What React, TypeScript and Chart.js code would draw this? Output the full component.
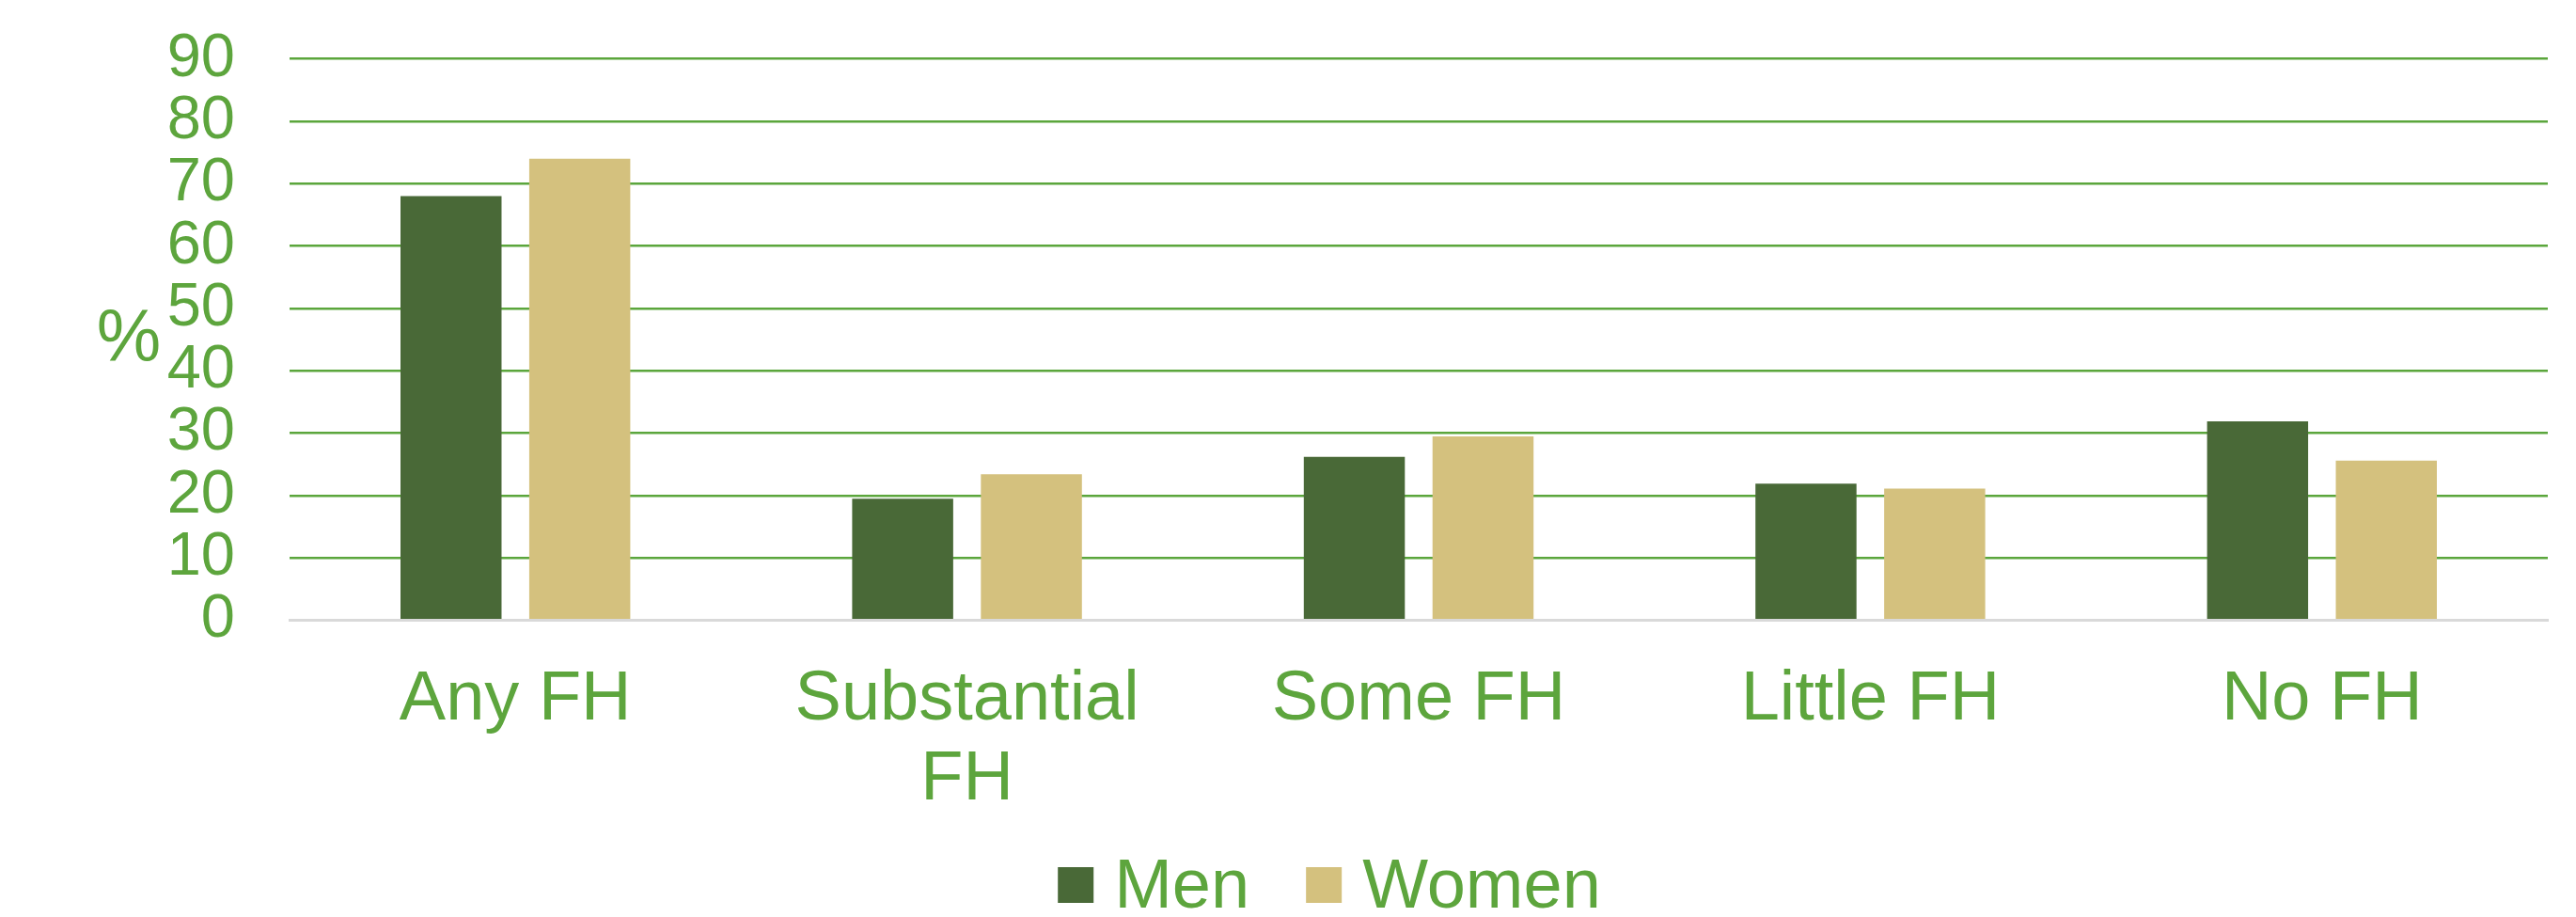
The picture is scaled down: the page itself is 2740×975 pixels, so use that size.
import React, { useEffect, useRef } from "react";
import { Chart, registerables } from "chart.js";

Chart.register(...registerables);

const categories: (string | string[])[] = ["Any FH", ["Substantial", "FH"], "Some FH", "Little FH", "No FH"];
const seriesNames = ["Men", "Women"];
const menValues = [68, 19.5, 26.2, 21.9, 31.9];
const womenValues = [74, 23.4, 29.5, 21.1, 25.6];
const yTicks = [0, 10, 20, 30, 40, 50, 60, 70, 80, 90];
const yTitle = "%";

const GREEN_TEXT = "#5DA53D";
const GRID_GREEN = "#5BA63C";
const MEN_COLOR = "#496937";
const WOMEN_COLOR = "#D4C17E";
const FONT = "'Liberation Sans', Arial, sans-serif";

const yTitlePlugin = {
  id: "yTitleHorizontal",
  afterDraw(chart: any) {
    const ctx = chart.ctx;
    const area = chart.chartArea;
    ctx.save();
    ctx.font = `77px ${FONT}`;
    ctx.fillStyle = GREEN_TEXT;
    ctx.textAlign = "center";
    ctx.textBaseline = "middle";
    ctx.fillText(yTitle, 137, (area.top + area.bottom) / 2 + 2);
    ctx.restore();
  },
};

const customLegend = {
  id: "customLegend",
  afterDraw(chart: any) {
    const ctx = chart.ctx;
    ctx.save();
    ctx.font = `74px ${FONT}`;
    const box = 38;
    const boxGap = 22;
    const itemGap = 60;
    const items = chart.data.datasets.map((d: any) => ({
      label: d.label,
      color: d.backgroundColor,
      w: ctx.measureText(d.label).width,
    }));
    let total = 0;
    items.forEach((it: any, i: number) => {
      total += box + boxGap + it.w + (i < items.length - 1 ? itemGap : 0);
    });
    let x = 1414 - total / 2;
    const baseline = 965;
    items.forEach((it: any) => {
      ctx.fillStyle = it.color;
      ctx.fillRect(x, 922, box, box);
      x += box + boxGap;
      ctx.fillStyle = GREEN_TEXT;
      ctx.textAlign = "left";
      ctx.textBaseline = "alphabetic";
      ctx.fillText(it.label, x, baseline);
      x += it.w + itemGap;
    });
    ctx.restore();
  },
};

export default function App() {
  const canvasRef = useRef<HTMLCanvasElement | null>(null);

  useEffect(() => {
    if (!canvasRef.current) return;
    const chart = new Chart(canvasRef.current, {
      type: "bar",
      data: {
        labels: categories,
        datasets: [
          {
            label: seriesNames[0],
            data: menValues,
            backgroundColor: MEN_COLOR,
            categoryPercentage: 0.57,
            barPercentage: 0.785,
          },
          {
            label: seriesNames[1],
            data: womenValues,
            backgroundColor: WOMEN_COLOR,
            categoryPercentage: 0.57,
            barPercentage: 0.785,
          },
        ],
      },
      options: {
        animation: false,
        responsive: true,
        maintainAspectRatio: false,
        layout: { padding: { top: 62.7, right: 30, bottom: 102.5, left: 0 } },
        plugins: {
          legend: { display: false },
          tooltip: { enabled: false },
          title: { display: false },
        },
        scales: {
          x: {
            grid: { display: false, drawTicks: false },
            border: { display: true, color: "#D9D9D9", width: 3 },
            ticks: {
              color: GREEN_TEXT,
              font: { family: FONT, size: 74, lineHeight: 1.155 },
              padding: 42,
              maxRotation: 0,
              autoSkip: false,
            },
            afterFit(scale: any) {
              scale.height = 213;
              scale.paddingLeft = 0;
              scale.paddingRight = 0;
            },
          },
          y: {
            min: 0,
            max: 90,
            afterBuildTicks(scale: any) {
              scale.ticks = yTicks.map((v) => ({ value: v }));
            },
            grid: {
              drawTicks: false,
              color: (c: any) => (c.tick && c.tick.value === 0 ? "#D9D9D9" : GRID_GREEN),
              lineWidth: (c: any) => (c.tick && c.tick.value === 0 ? 3 : 2.5),
            },
            border: { display: false },
            ticks: {
              color: GREEN_TEXT,
              font: { family: FONT, size: 65, lineHeight: 1.0 },
              padding: 58,
              autoSkip: false,
            },
            afterFit(scale: any) {
              scale.width = 308;
              scale.paddingTop = 0;
              scale.paddingBottom = 0;
            },
          },
        },
      },
      plugins: [yTitlePlugin, customLegend],
    });
    return () => chart.destroy();
  }, []);

  return (
    <div style={{ position: "absolute", left: 0, top: 0, width: 2740, height: 975, background: "#fff" }}>
      <canvas ref={canvasRef} />
    </div>
  );
}
